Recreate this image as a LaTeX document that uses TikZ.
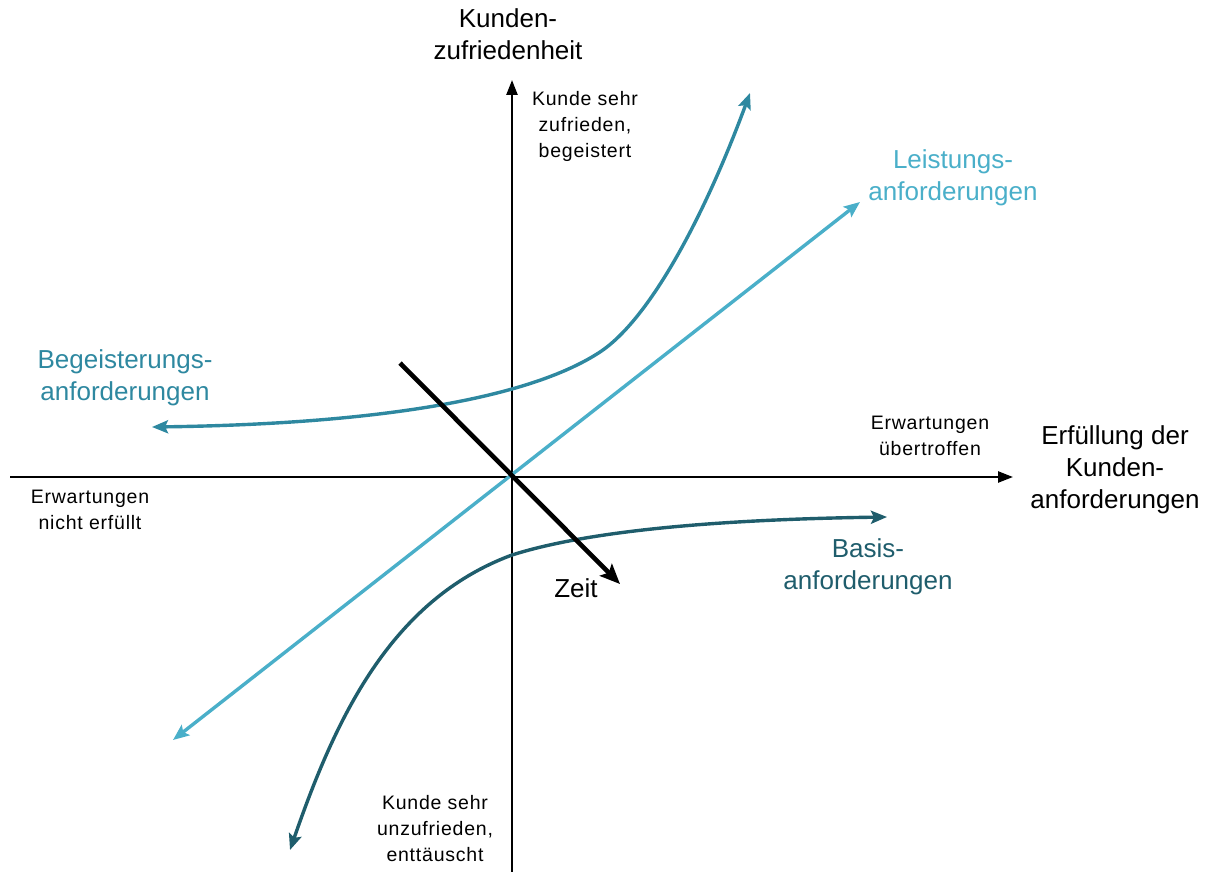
\documentclass[tikz,border=0pt]{standalone}
\usepackage{fontspec}
\setmainfont{Liberation Sans}
\usetikzlibrary{arrows.meta}
\definecolor{begcol}{HTML}{2E88A0}
\definecolor{leicol}{HTML}{4AAFC9}
\definecolor{bascol}{HTML}{1F5D6C}
\tikzset{
  axisline/.style={line width=2.4pt, -{Triangle[length=15pt,width=11pt]}},
  curveline/.style={line width=3.4pt, {Stealth[length=16pt,width=13pt,inset=3pt]}-{Stealth[length=16pt,width=13pt,inset=3pt]}},
  zeitline/.style={line width=4.6pt, -{Stealth[length=20pt,width=17pt,inset=4pt]}},
  bigtxt/.style={align=center, inner sep=0pt, font=\fontsize{26}{32}\selectfont},
  smalltxt/.style={align=center, inner sep=0pt, font=\fontsize{19.5}{26}\selectfont\addfontfeatures{LetterSpace=4}},
}
\begin{document}
\begin{tikzpicture}[x=1pt,y=-1pt]
\useasboundingbox (0,0) rectangle (1212,872);
% axes
\coordinate (O) at (512,477);
\coordinate (xl) at (10,477);
\coordinate (xr) at (1013,477);
\coordinate (yb) at (512,872);
\coordinate (yt) at (512,80);
\draw[axisline] (xl) -- (xr);
\draw[axisline] (yb) -- (yt);

% performance requirements: straight line through the origin
\coordinate (lA) at (860,202);
\coordinate (lB) at (173,740);
\draw[curveline, leicol] (lB) -- (lA);

% excitement requirements
\coordinate (bA) at (152,427);
\coordinate (bM) at (600,352);
\coordinate (bB) at (750,93);
\draw[curveline, begcol] (bA) .. controls (380,424) and (530,398) .. (bM)
  .. controls (650,319) and (705,215) .. (bB);

% basic requirements
\coordinate (sA) at (290,850);
\coordinate (sM) at (512,555);
\coordinate (sB) at (887,517);
\draw[curveline, bascol] (sA) .. controls (335,720) and (390,600) .. (sM)
  .. controls (600,527) and (750,519) .. (sB);

% time arrow
\coordinate (zA) at (400,363);
\coordinate (zB) at (620,584);
\draw[zeitline] (zA) -- (zB);

% labels
\node[bigtxt] (ylab) at (508,34) {Kunden-\\zufriedenheit};
\node[bigtxt] (xlab) at (1115,470) {Erfüllung der\\Kunden-\\anforderungen};
\node[smalltxt] (top) at (585,126) {Kunde sehr\\zufrieden,\\begeistert};
\node[smalltxt] (bot) at (435,829) {Kunde sehr\\unzufrieden,\\enttäuscht};
\node[smalltxt] (right) at (930,436) {Erwartungen\\übertroffen};
\node[smalltxt] (left) at (90,510) {Erwartungen\\nicht erfüllt};
\node[bigtxt, leicol] (leis) at (953,178) {Leistungs-\\anforderungen};
\node[bigtxt, begcol] (begl) at (125,378) {Begeisterungs-\\anforderungen};
\node[bigtxt, bascol] (basl) at (868,567) {Basis-\\anforderungen};
\node[bigtxt] (zeit) at (576,588) {Zeit};
\end{tikzpicture}
\end{document}
